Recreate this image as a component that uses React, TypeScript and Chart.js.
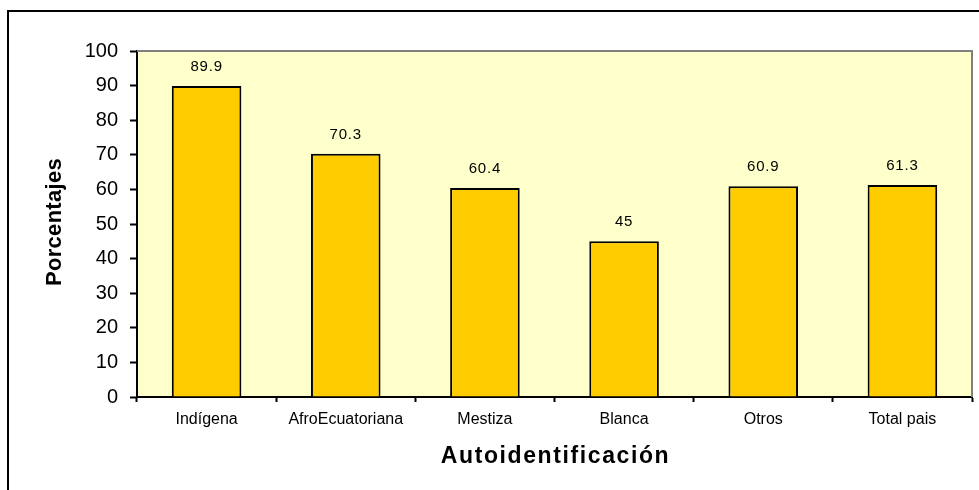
import React, { useEffect, useRef } from "react";
import { Chart, registerables } from "chart.js";

Chart.register(...registerables);

const categories = ["Indígena", "AfroEcuatoriana", "Mestiza", "Blanca", "Otros", "Total pais"];
const values = [89.9, 70.3, 60.4, 45, 60.9, 61.3];
const valueLabels = ["89.9", "70.3", "60.4", "45", "60.9", "61.3"];
const yTitle = "Porcentajes";
const xTitle = "Autoidentificación";

const FONT = "Arial, 'Liberation Sans', sans-serif";

const framePlugin = {
  id: "framePlugin",
  beforeDraw(chart: any) {
    const { ctx, chartArea } = chart;
    ctx.save();
    ctx.fillStyle = "#ffffff";
    ctx.fillRect(0, 0, chart.width, chart.height);
    // outer frame (top + left)
    ctx.strokeStyle = "#000000";
    ctx.lineWidth = 2;
    ctx.beginPath();
    ctx.moveTo(8, chart.height + 2);
    ctx.lineTo(8, 11);
    ctx.lineTo(chart.width + 2, 11);
    ctx.stroke();
    // plot background
    ctx.fillStyle = "#FFFFCC";
    ctx.fillRect(chartArea.left, chartArea.top, chartArea.right - chartArea.left, chartArea.bottom - chartArea.top);
    ctx.restore();
  },
  afterDatasetsDraw(chart: any) {
    const { ctx } = chart;
    const meta = chart.getDatasetMeta(0);
    ctx.save();
    ctx.font = `15px ${FONT}`;
    ctx.fillStyle = "#000000";
    ctx.textAlign = "center";
    ctx.textBaseline = "middle";
    try { (ctx as any).letterSpacing = "0.8px"; } catch (e) {}
    meta.data.forEach((bar: any, i: number) => {
      ctx.fillText(valueLabels[i], bar.x, bar.y - 19);
    });
    try { (ctx as any).letterSpacing = "0px"; } catch (e) {}
    ctx.restore();
  },
  afterDraw(chart: any) {
    const { ctx, chartArea } = chart;
    ctx.save();
    ctx.strokeStyle = "#808080";
    ctx.lineWidth = 2;
    ctx.beginPath();
    ctx.moveTo(chartArea.left, chartArea.top);
    ctx.lineTo(chartArea.right, chartArea.top);
    ctx.lineTo(chartArea.right, chartArea.bottom);
    ctx.stroke();

    ctx.fillStyle = "#000000";
    ctx.textAlign = "center";
    ctx.textBaseline = "middle";
    // x title
    ctx.font = `bold 23px ${FONT}`;
    try { (ctx as any).letterSpacing = "1.6px"; } catch (e) {}
    ctx.fillText(xTitle, (chartArea.left + chartArea.right) / 2 + 1, 457);
    try { (ctx as any).letterSpacing = "0.3px"; } catch (e) {}
    // y title
    ctx.translate(55, (chartArea.top + chartArea.bottom) / 2 - 2);
    ctx.rotate(-Math.PI / 2);
    ctx.font = `bold 22px ${FONT}`;
    ctx.fillText(yTitle, 0, 0);
    try { (ctx as any).letterSpacing = "0px"; } catch (e) {}
    ctx.restore();
  },
};

export default function App() {
  const canvasRef = useRef<HTMLCanvasElement | null>(null);

  useEffect(() => {
    if (!canvasRef.current) return;
    const chart = new Chart(canvasRef.current, {
      type: "bar",
      data: {
        labels: categories,
        datasets: [
          {
            data: values,
            backgroundColor: "#FFCC00",
            borderColor: "#000000",
            borderWidth: 2,
            categoryPercentage: 1,
            barPercentage: 0.5,
          },
        ],
      },
      options: {
        responsive: false,
        animation: false,
        devicePixelRatio: 1,
        layout: { padding: { top: 51, right: 7, left: 0, bottom: 0 } },
        plugins: {
          legend: { display: false },
          tooltip: { enabled: false },
          title: { display: false },
        },
        scales: {
          x: {
            grid: {
              display: true,
              drawOnChartArea: false,
              offset: true,
              tickLength: 5,
              tickColor: "#000000",
              tickWidth: 2,
            },
            border: { display: true, color: "#000000", width: 2 },
            ticks: {
              color: "#000000",
              font: { family: FONT, size: 16 },
              padding: 8,
              maxRotation: 0,
              autoSkip: false,
            },
            afterFit(scale: any) {
              scale.height = 93;
            },
          },
          y: {
            min: 0,
            max: 100,
            grid: {
              display: true,
              drawOnChartArea: false,
              tickLength: 7,
              tickColor: "#000000",
              tickWidth: 2,
            },
            border: { display: true, color: "#000000", width: 2 },
            ticks: {
              stepSize: 10,
              color: "#000000",
              font: { family: FONT, size: 20 },
              padding: 12,
            },
            afterFit(scale: any) {
              scale.width = 137;
            },
          },
        },
      },
      plugins: [framePlugin],
    });
    return () => chart.destroy();
  }, []);

  return (
    <div style={{ position: "fixed", left: 0, top: 0, width: 979, height: 490, background: "#fff" }}>
      <canvas ref={canvasRef} width={979} height={490} style={{ display: "block" }} />
    </div>
  );
}
